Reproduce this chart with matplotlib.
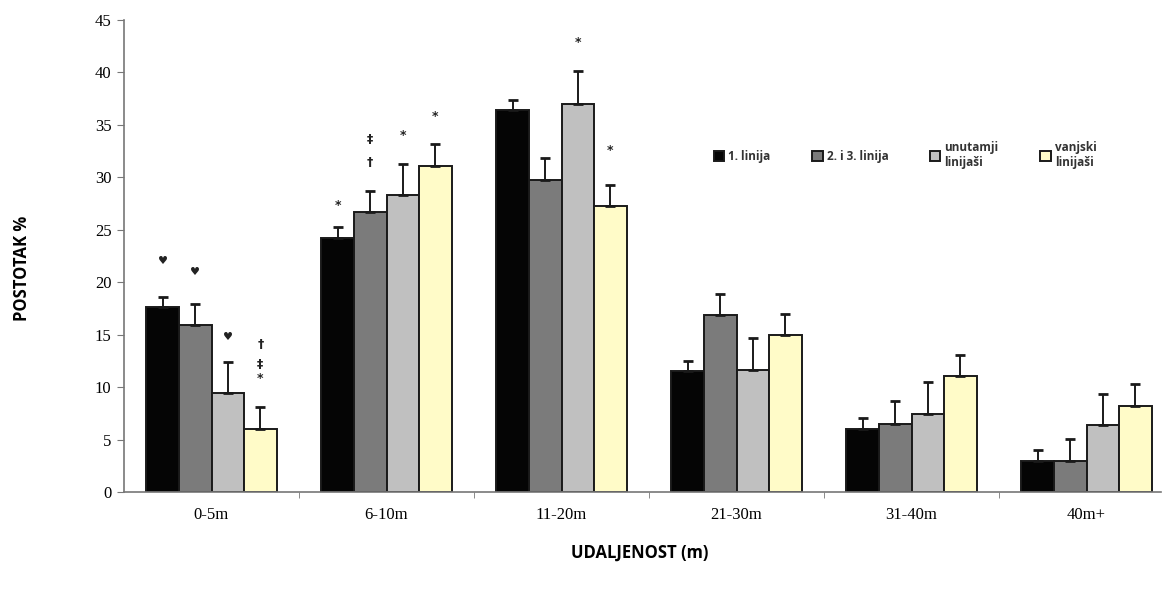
import numpy as np
import matplotlib
matplotlib.use("Agg")
import matplotlib.pyplot as plt

# --- data ---
categories = ["0-5m", "6-10m", "11-20m", "21-30m", "31-40m", "40m+"]
series_names = ["1. linija", "2. i 3. linija", "unutamji\nlinijaši", "vanjski\nlinijaši"]

prva = [17.6, 24.2, 36.4, 11.5, 6.0, 3.0]
druga_treca = [15.9, 26.7, 29.7, 16.9, 6.5, 3.0]
unutarnji = [9.4, 28.3, 37.0, 11.6, 7.4, 6.35]
vanjski = [6.0, 31.1, 27.3, 15.0, 11.1, 8.2]

prva_err = [1.0, 1.1, 1.0, 1.0, 1.1, 1.0]
druga_treca_err = [2.0, 2.0, 2.1, 2.0, 2.2, 2.05]
unutarnji_err = [3.0, 3.0, 3.1, 3.1, 3.1, 3.0]
vanjski_err = [2.1, 2.1, 2.0, 2.0, 2.0, 2.1]

# significance marks: (category index, series index, label, y value)
marks = [
    (0, 0, "♥", 22.0), (0, 1, "♥", 21.0), (0, 2, "♥", 14.8),
    (0, 3, "†", 14.1), (0, 3, "‡", 12.2), (0, 3, "*", 10.8),
    (1, 0, "*", 27.3), (1, 1, "†", 31.4), (1, 1, "‡", 33.6),
    (1, 2, "*", 34.0), (1, 3, "*", 35.8),
    (2, 2, "*", 42.9), (2, 3, "*", 32.6),
]

values = [prva, druga_treca, unutarnji, vanjski]
errors = [prva_err, druga_treca_err, unutarnji_err, vanjski_err]
colors = ["#050505", "#7b7b7b", "#c0c0c0", "#fffbc8"]

# --- plot ---
fig = plt.figure(figsize=(11.67, 5.89), dpi=100)
ax = fig.add_axes([124 / 1167, 1 - 492 / 589, (1161 - 124) / 1167, (492 - 20) / 589])

x = np.arange(len(categories))
width = 0.186
for i, (vals, errs, col) in enumerate(zip(values, errors, colors)):
    pos = x + (i - 1.5) * width
    ax.bar(pos, vals, width, color=col, edgecolor="#1a1a1a", linewidth=1.4,
           label=series_names[i], zorder=2)
    ax.errorbar(pos, vals, yerr=[np.zeros(len(vals)), errs], fmt="none",
                ecolor="#1a1a1a", elinewidth=1.4, capsize=3.5, capthick=2, zorder=3)

for ci, si, txt, yv in marks:
    ax.text(x[ci] + (si - 1.5) * width, yv, txt, ha="center", va="center",
            fontsize=9 if txt != "♥" else 8, color="#222222", fontweight="bold",
            family=["DejaVu Sans"])

ax.set_xlim(-0.5, 5.5 - 13 / 175)
ax.set_ylim(0, 45)
ax.set_yticks(range(0, 46, 5))
ax.set_xticks(x)
ax.set_xticklabels(categories, family="Liberation Serif", fontsize=12)
ax.set_xticks(np.arange(0.5, 5.0, 1), minor=True)
ax.tick_params(axis="x", which="major", length=0, pad=11)
ax.tick_params(axis="x", which="minor", length=4, color="#777777")
ax.tick_params(axis="y", length=5, color="#777777", pad=4)
for lab in ax.get_yticklabels():
    lab.set_family("Liberation Serif")
    lab.set_fontsize(12)

for s in ["top", "right"]:
    ax.spines[s].set_visible(False)
for s in ["left", "bottom"]:
    ax.spines[s].set_color("#777777")
    ax.spines[s].set_linewidth(1.2)

fig.text(22 / 1167, 1 - 268 / 589, "POSTOTAK %", rotation=90, ha="center", va="center",
         fontsize=12, fontweight="bold", family="Open Sans")
fig.text(640 / 1167, 1 - 553 / 589, "UDALJENOST (m)", ha="center", va="center",
         fontsize=12, fontweight="bold", family="Open Sans")

leg = ax.legend(loc="center left", bbox_to_anchor=((703 - 124) / (1161 - 124), (492 - 155) / 472),
                ncol=4, frameon=False, handlelength=0.9, handleheight=0.9,
                handletextpad=0.35, columnspacing=3.5,
                prop={"family": "Open Sans", "size": 8.5, "weight": "bold"})
for t in leg.get_texts():
    t.set_color("#333333")

fig.savefig("out.png", dpi=100)
